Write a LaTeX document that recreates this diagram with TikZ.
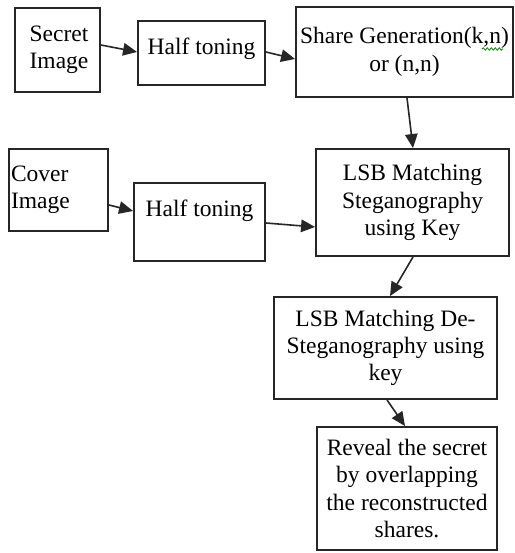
\documentclass[tikz,border=0pt]{standalone}
\usepackage{fontspec}
\setmainfont{Liberation Serif}
\newfontfamily\boxfont{Liberation Serif}
\usetikzlibrary{arrows.meta,decorations.pathmorphing}

\begin{document}
\begin{tikzpicture}[x=1pt,y=-1pt,
  font=\boxfont\fontsize{23.5}{27.3}\selectfont,
  box/.style={draw=black!85, line width=1.9pt, rectangle, inner sep=0pt,
    align=center},
  arr/.style={draw=black!85, line width=1.6pt,
    -{Triangle[length=14pt,width=12.5pt]}},
  squiggle/.style={draw=green!55!black, line width=0.8pt,
    decorate, decoration={snake, segment length=4pt, amplitude=1.2pt}}
]
\useasboundingbox (0,0) rectangle (514,553);

% encoding branch
\node[box, minimum width=85pt, minimum height=84pt] (secret) at (57.5,50)
  {\hspace*{3pt}Secret\\\hspace*{3pt}Image};
\node[box, minimum width=127pt, minimum height=64pt, text depth=13.5pt]
  (half1) at (201.5,53) {Half toning};
\node[box, minimum width=217pt, minimum height=90pt] (share) at (404.5,52)
  {Share Generation(k,n)\\or (n,n)};

% cover branch
\node[box, minimum width=99pt, minimum height=82pt, align=left,
  text width=95pt] (cover) at (58.5,190) {Cover\\Image};
\node[box, minimum width=131pt, minimum height=78pt, text depth=27.5pt]
  (half2) at (199.5,222) {Half toning};
\node[box, minimum width=193pt, minimum height=107pt] (lsb) at (412.5,202.5)
  {LSB Matching\\Steganography\\using Key};

% decoding
\node[box, minimum width=223pt, minimum height=102pt] (desteg) at (385.5,348)
  {LSB Matching De-\\Steganography using\\key};
\node[box, minimum width=180pt, minimum height=123pt] (reveal) at (407,488.5)
  {Reveal the secret\\by overlapping\\the reconstructed\\shares.};

% connectors
\draw[arr] ([shift={(0,-5)}]secret.east) -- ([shift={(0,-1)}]half1.west);
\draw[arr] ([shift={(0,-1)}]half1.east) -- ([shift={(0,7)}]share.west);
\draw[arr] ([shift={(2.5,0)}]share.south) -- ([shift={(0.5,0)}]lsb.north);
\draw[arr] ([shift={(0,15)}]cover.east) -- ([shift={(0,-11)}]half2.west);
\draw[arr] ([shift={(0,1)}]half2.east) -- ([shift={(0,24.5)}]lsb.west);
\draw[arr] ([shift={(0.5,0)}]lsb.south) -- ([shift={(4.5,0)}]desteg.north);
\draw[arr] ([shift={(1.5,0)}]desteg.south) -- ([shift={(-2,0)}]reveal.north);

% spell-check underline under "k,n"
\coordinate (sqa) at (482,49);
\coordinate (sqb) at (503,49);
\draw[squiggle] (sqa) -- (sqb);
\end{tikzpicture}
\end{document}
